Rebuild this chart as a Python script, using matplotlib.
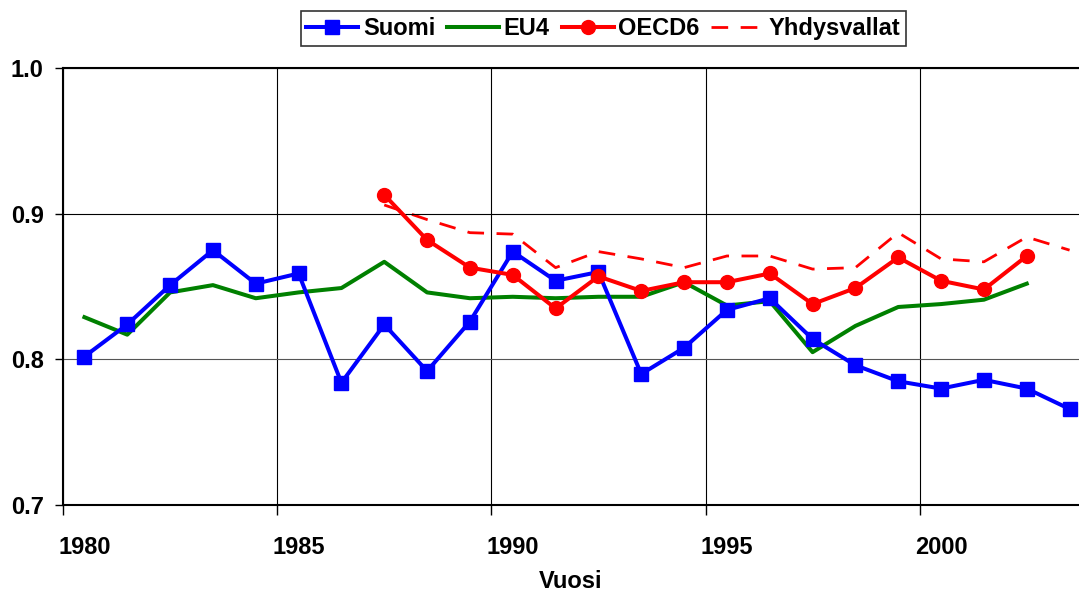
import matplotlib.pyplot as plt
import numpy as np

plt.rcParams['font.family'] = ['Liberation Sans', 'DejaVu Sans']
plt.rcParams['font.weight'] = 'bold'

# Data
years = np.arange(1980, 2004)

suomi = [0.802, 0.824, 0.851, 0.875, 0.852, 0.859, 0.784, 0.824, 0.792, 0.826,
         0.874, 0.854, 0.860, 0.790, 0.808, 0.834, 0.842, 0.814, 0.796, 0.785,
         0.780, 0.786, 0.780, 0.766]

eu4 = [0.829, 0.817, 0.846, 0.851, 0.842, 0.846, 0.849, 0.867, 0.846, 0.842,
       0.843, 0.842, 0.843, 0.843, 0.853, 0.837, 0.840, 0.805, 0.823, 0.836,
       0.838, 0.841, 0.852]

oecd6_years = np.arange(1987, 2003)
oecd6 = [0.913, 0.882, 0.863, 0.858, 0.835, 0.857, 0.847, 0.853, 0.853, 0.859,
         0.838, 0.849, 0.870, 0.854, 0.848, 0.871]

usa_years = np.arange(1987, 2004)
usa = [0.906, 0.896, 0.887, 0.886, 0.863, 0.874, 0.869, 0.863, 0.871, 0.871,
       0.862, 0.863, 0.887, 0.869, 0.867, 0.884, 0.875]

tick_years = [1980, 1985, 1990, 1995, 2000]

fig = plt.figure(figsize=(10.79, 5.95), dpi=100)
ax = fig.add_axes([0.0584, 0.151, 0.9416, 0.7347])

# points sit in the middle of each year's slot
ax.plot(years + 0.5, suomi, color='#0000FF', lw=2.9, marker='s', ms=10.5,
        label='Suomi', zorder=3)
ax.plot(years[:len(eu4)] + 0.5, eu4, color='#008000', lw=2.9,
        label='EU4', zorder=2)
ax.plot(oecd6_years + 0.5, oecd6, color='#FF0000', lw=2.9, marker='o', ms=10,
        label='OECD6', zorder=4)
ax.plot(usa_years + 0.5, usa, color='#FF0000', lw=2.0, ls=(0, (6, 4.5)),
        label='Yhdysvallat', zorder=1)

ax.set_xlim(1980, 2003.72)
ax.set_ylim(0.7, 1.0)

ax.set_yticks([0.7, 0.8, 0.9, 1.0])
ax.set_yticklabels(['0.7', '0.8', '0.9', '1.0'], fontsize=17, fontweight='bold')
ax.tick_params(axis='y', direction='out', length=6, width=1, pad=8)

ax.set_xticks(tick_years)
ax.set_xticklabels([])
ax.set_xticks([y + 0.5 for y in tick_years], minor=True)
ax.set_xticklabels([str(y) for y in tick_years], minor=True,
                   fontsize=17, fontweight='bold')
ax.tick_params(axis='x', which='major', direction='out', length=7, width=1)
ax.tick_params(axis='x', which='minor', length=0, pad=22)

ax.grid(True, which='major', color='black', lw=0.8)
ax.yaxis.get_gridlines()[1].set_color('#555555')

for side in ['left', 'bottom', 'top']:
    ax.spines[side].set_linewidth(1.5)
ax.spines['right'].set_visible(False)

ax.set_xlabel('Vuosi', fontsize=17, fontweight='bold', labelpad=8)

leg = fig.legend(loc='center', bbox_to_anchor=(0.559, 0.952), ncol=4,
                 fontsize=17, frameon=True, fancybox=False, edgecolor='black',
                 handlelength=2.2, handletextpad=0.2, columnspacing=0.5,
                 borderpad=0.25, borderaxespad=0)
leg.get_frame().set_linewidth(1.2)
for t in leg.get_texts():
    t.set_fontweight('bold')

plt.savefig('out.png', dpi=100)
